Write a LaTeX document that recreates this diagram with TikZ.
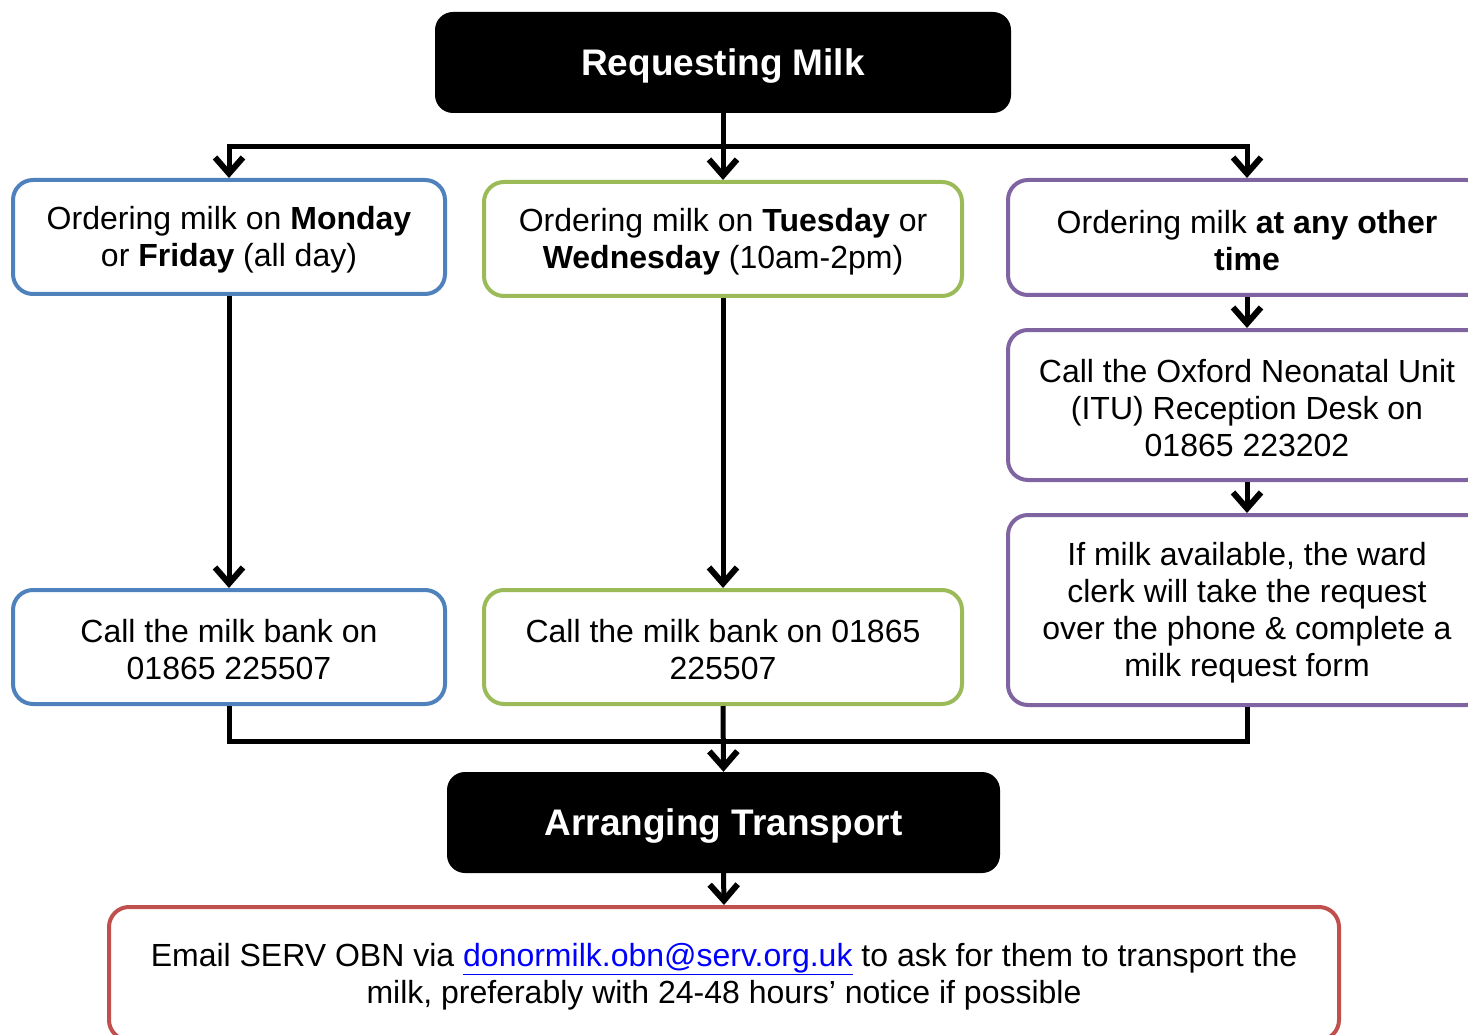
\documentclass[tikz,border=0pt]{standalone}
\usepackage{fontspec}
\setmainfont{Liberation Sans}
\usetikzlibrary{arrows.meta}
\definecolor{cblue}{HTML}{4F81BD}
\definecolor{cgreen}{HTML}{9BBB59}
\definecolor{cpurple}{HTML}{8064A2}
\definecolor{cred}{HTML}{C0504D}
\definecolor{clink}{HTML}{0000FF}
\newcommand{\dn}{\rule{0pt}{29pt}}
\newcommand{\tdn}{\rule{0pt}{33pt}}
\tikzset{
  body/.style={font=\fontsize{32}{37}\selectfont, align=center},
  box/.style={body, draw, line width=4pt, rounded corners=20pt, fill=white, inner sep=0pt},
  headbox/.style={fill=black, text=white, rounded corners=18pt, inner sep=0pt,
     font=\fontsize{37}{44}\selectfont\bfseries},
  conn/.style={line width=5pt, draw=black},
  arrowline/.style={conn, -{Straight Barb[length=16pt,width=28pt,line width=6pt]}},
}
\begin{document}
\begin{tikzpicture}[x=1pt,y=-1pt]
\useasboundingbox (0,0) rectangle (1468,1035);
\node[headbox, minimum width=576pt, minimum height=101pt] (title) at (723,62.5) {\tdn Requesting Milk};
\node[box, draw=cblue, minimum width=432pt, minimum height=114pt] (b1) at (229,237)
  {\dn Ordering milk on \textbf{Monday}\\or \textbf{Friday} (all day)};
\node[box, draw=cgreen, minimum width=478pt, minimum height=114pt] (g1) at (723,239)
  {\dn Ordering milk on \textbf{Tuesday} or\\\textbf{Wednesday} (10am-2pm)};
\node[box, draw=cpurple, minimum width=478pt, minimum height=115pt] (p1) at (1247,237.5)
  {\dn Ordering milk \textbf{at any other}\\\textbf{time}};
\node[box, draw=cpurple, minimum width=478pt, minimum height=150pt] (p2) at (1247,405)
  {\dn Call the Oxford Neonatal Unit\\(ITU) Reception Desk on\\01865 223202};
\node[box, draw=cpurple, minimum width=478pt, minimum height=190pt] (p3) at (1247,610)
  {\dn If milk available, the ward\\clerk will take the request\\over the phone \& complete a\\milk request form};
\node[box, draw=cblue, minimum width=432pt, minimum height=114pt] (b2) at (229,647)
  {\dn Call the milk bank on\\01865 225507};
\node[box, draw=cgreen, minimum width=478pt, minimum height=114pt] (g2) at (723,647)
  {\dn Call the milk bank on 01865\\225507};
\node[headbox, minimum width=553pt, minimum height=101pt] (arr) at (723.5,822.5) {\tdn Arranging Transport};
\node[box, draw=cred, minimum width=1230pt, minimum height=133pt] (red) at (724,973.5)
  {\dn Email SERV OBN via {\color{clink}\underline{donormilk.obn@serv.org.uk}} to ask for them to transport the\\milk, preferably with 24-48 hours’ notice if possible};
% connectors
\draw[arrowline] (title.south) -- (g1.north);
\draw[arrowline] (title.south) -- ++(0,33.5) -| (b1.north);
\draw[arrowline] (title.south) -- ++(0,33.5) -| (p1.north);
\draw[arrowline] (b1.south) -- (b2.north);
\draw[arrowline] (g1.south) -- (g2.north);
\draw[arrowline] (p1.south) -- (p2.north);
\draw[arrowline] (p2.south) -- (p3.north);
\draw[conn] (b2.south) -- ++(0,35) -| (p3.south);
\draw[arrowline] (g2.south) -- (arr.north);
\draw[arrowline] (arr.south) -- (red.north);
\end{tikzpicture}
\end{document}
